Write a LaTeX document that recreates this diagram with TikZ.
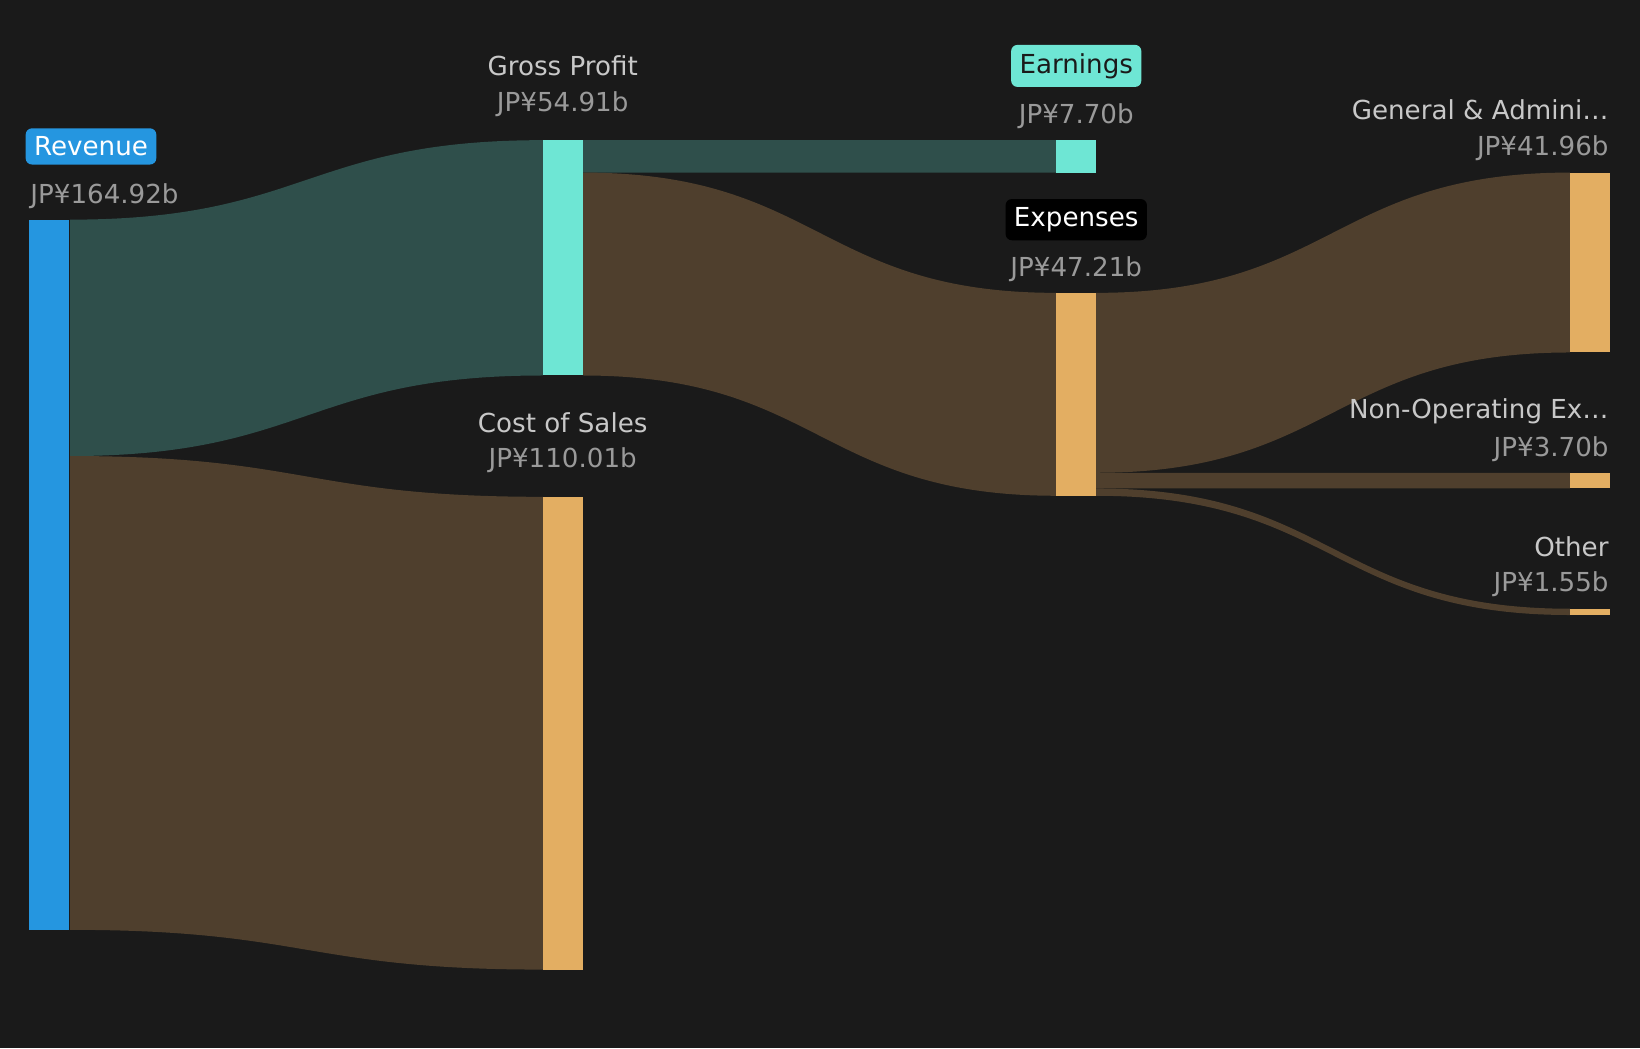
\documentclass[tikz,border=0pt]{standalone}
\usepackage{fontspec}
\setmainfont{DejaVu Sans}
\usetikzlibrary{positioning}
\definecolor{bgc}{HTML}{1A1A1A}
\definecolor{revc}{HTML}{2596E0}
\definecolor{tealc}{HTML}{6EE6D4}
\definecolor{orc}{HTML}{E3AE62}
\definecolor{tealflow}{HTML}{2F4F4B}
\definecolor{brflow}{HTML}{4F3F2D}
\definecolor{labc}{HTML}{C8C8C8}
\definecolor{valc}{HTML}{9A9A9A}
% flow band: x1, top1, bot1, x2, top2, bot2, colour
\newcommand{\sflow}[7]{
    \fill[#7] (#1,#2) .. controls ({(#1+#4)/2},#2) and ({(#1+#4)/2},#5) .. (#4,#5)
        -- (#4,#6) .. controls ({(#1+#4)/2},#6) and ({(#1+#4)/2},#3) .. (#1,#3) -- cycle;
}
\begin{document}
\begin{tikzpicture}[x=0.5pt, y=-0.5pt,
    every node/.style={font=\fontsize{12.5pt}{15pt}\selectfont},
    lab/.style={text=labc},
    val/.style={text=valc},
    tag/.style={rounded corners=3pt, inner sep=4pt}]
    \fill[bgc] (0,0) rectangle (1568,1002);
    \useasboundingbox (0,0) rectangle (1568,1002);

    % Flows
    \sflow{67}{210}{436}{519}{134}{359}{tealflow}
    \sflow{67}{436}{889}{519}{475}{927}{brflow}
    \sflow{557}{134}{165}{1010}{134}{165}{tealflow}
    \sflow{557}{165}{359}{1010}{280}{474}{brflow}
    \sflow{1048}{280}{452}{1501}{165}{337}{brflow}
    \sflow{1048}{452}{467}{1501}{452}{467}{brflow}
    \sflow{1048}{467}{474}{1501}{582}{588}{brflow}

    % Bars
    \foreach \nm/\xa/\ya/\yb/\col in {rev/28/210/889/revc, gp/519/134/359/tealc,
                                       cos/519/475/927/orc, earn/1010/134/165/tealc,
                                       exp/1010/280/474/orc, ga/1501/165/337/orc,
                                       nonop/1501/452/467/orc, oth/1501/582/588/orc} {
        \fill[\col] (\xa,\ya) rectangle ++(38,\yb-\ya);
        \coordinate (\nm) at (\xa+19,\ya);
    }

    % Labels
    \node[tag, fill=revc, text=white] (revlab) at (87,140) {Revenue};
    \node[val, anchor=west] (revval) at (22,188) {JP¥164.92b};
    \node[lab] (gplab) at (538,63) {Gross Profit};
    \node[val] (gpval) at (538,100) {JP¥54.91b};
    \node[lab] (coslab) at (538,404) {Cost of Sales};
    \node[val] (cosval) at (538,440) {JP¥110.01b};
    \node[tag, fill=tealc, text=bgc] (earnlab) at (1029,63) {Earnings};
    \node[val] (earnval) at (1029,111) {JP¥7.70b};
    \node[tag, fill=black, text=white] (explab) at (1029,210) {Expenses};
    \node[val] (expval) at (1029,257) {JP¥47.21b};
    \node[lab, anchor=east] (galab) at (1545,105) {General \& Admini…};
    \node[val, anchor=east] (gaval) at (1545,142) {JP¥41.96b};
    \node[lab, anchor=east] (nonoplab) at (1545,393) {Non-Operating Ex…};
    \node[val, anchor=east] (nonopval) at (1545,429) {JP¥3.70b};
    \node[lab, anchor=east] (othlab) at (1545,523) {Other};
    \node[val, anchor=east] (othval) at (1545,559) {JP¥1.55b};
\end{tikzpicture}
\end{document}
